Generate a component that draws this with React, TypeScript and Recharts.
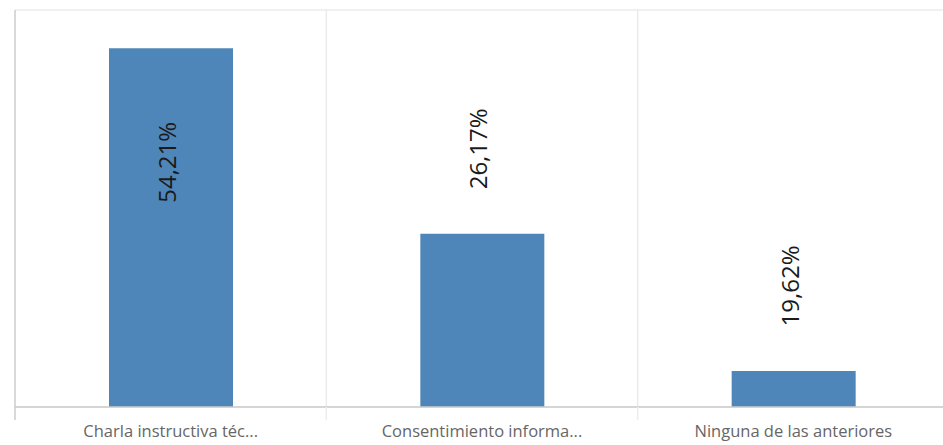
import React from "react";
import { BarChart, Bar, XAxis, YAxis, CartesianGrid, LabelList } from "recharts";

const categories = ["Charla instructiva téc...", "Consentimiento informa...", "Ninguna de las anteriores"];
const barValues = [54.21, 26.17, 5.45];
const valueLabels = ["54,21%", "26,17%", "19,62%"];
const yTicks = [0, 10, 20, 30, 40, 50, 60];

const data = categories.map((name, i) => ({ name, value: barValues[i], label: valueLabels[i] }));

const CHART_W = 949;
const CHART_H = 445;
const MARGIN = { top: 10, right: 0, bottom: 0, left: 5 };
const Y_AXIS_W = 10;
const X_AXIS_H = 38;
const PLOT_LEFT = MARGIN.left + Y_AXIS_W;
const PLOT_W = CHART_W - PLOT_LEFT - MARGIN.right;
const PLOT_TOP = MARGIN.top;
const PLOT_BOTTOM = CHART_H - MARGIN.bottom - X_AXIS_H;
const HALF_BAND = PLOT_W / categories.length / 2;
const FONT = "'Open Sans', 'Noto Sans', Arial, sans-serif";

const XTick = (props: any) => {
  const { x, payload, index } = props;
  return (
    <g>
      <line
        x1={x - HALF_BAND}
        x2={x - HALF_BAND}
        y1={PLOT_BOTTOM}
        y2={PLOT_BOTTOM + 13}
        stroke={index === 0 ? "#cdcdcd" : "#ececec"}
        strokeWidth={1.5}
      />
      <text x={x} y={PLOT_BOTTOM + 30} textAnchor="middle" fill="#666666" fontSize={16.5} fontFamily={FONT}>
        {payload.value}
      </text>
    </g>
  );
};

const ValueLabel = (props: any) => {
  const { x, y, width, value } = props;
  const cx = x + width / 2 + 5;
  const above = y - 85;
  const cy = above - 42 < PLOT_TOP ? y + 114 : above;
  return (
    <text
      x={cx}
      y={cy}
      transform={`rotate(-90, ${cx}, ${cy})`}
      textAnchor="middle"
      fill="#1a1a1a"
      fontSize={24}
      fontFamily={FONT}
    >
      {value}
    </text>
  );
};

export default function App() {
  return (
    <div style={{ position: "absolute", left: 0, top: 0, width: 943, height: 445, overflow: "hidden", background: "#ffffff" }}>
      <BarChart width={CHART_W} height={CHART_H} data={data} margin={MARGIN}>
        <CartesianGrid
          stroke="#ebebeb"
          strokeWidth={1.5}
          verticalCoordinatesGenerator={({ offset }: any) =>
            categories.slice(1).map((_, i) => offset.left + ((i + 1) * offset.width) / categories.length)
          }
        />
        <YAxis
          width={Y_AXIS_W}
          domain={[0, 60]}
          ticks={yTicks}
          tick={false}
          tickSize={10}
          tickLine={{ stroke: "#e8e8e8", strokeWidth: 1.5 }}
          axisLine={{ stroke: "#cdcdcd", strokeWidth: 1.5 }}
        />
        <XAxis
          dataKey="name"
          height={X_AXIS_H}
          interval={0}
          tickLine={false}
          tickSize={0}
          axisLine={{ stroke: "#cdcdcd", strokeWidth: 1.5 }}
          tick={<XTick />}
        />
        <Bar dataKey="value" fill="#4f86b9" barSize={124} isAnimationActive={false}>
          <LabelList dataKey="label" content={<ValueLabel />} />
        </Bar>
      </BarChart>
    </div>
  );
}
